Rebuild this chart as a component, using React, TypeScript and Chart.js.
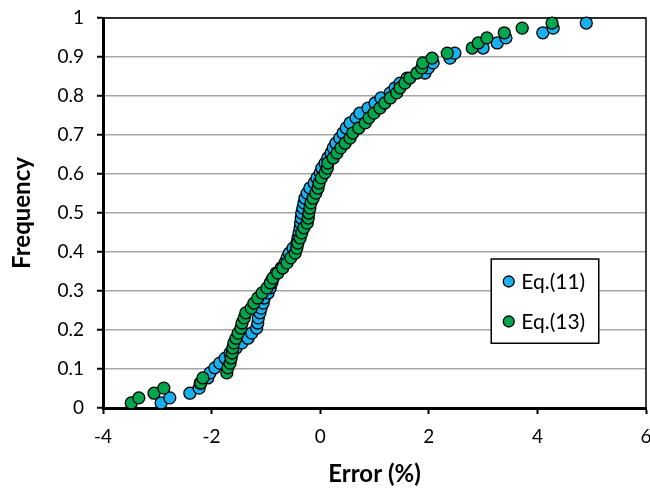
import React, { useEffect, useRef } from 'react';
import { Chart, registerables } from 'chart.js';

Chart.register(...registerables);

// Cumulative frequency levels (shared by both series)
const frequency = [
  0.013, 0.026, 0.038, 0.051, 0.064, 0.077, 0.090, 0.103, 0.115, 0.128,
  0.141, 0.154, 0.167, 0.179, 0.192, 0.205, 0.218, 0.231, 0.244, 0.256,
  0.269, 0.282, 0.295, 0.308, 0.321, 0.333, 0.346, 0.359, 0.372, 0.385,
  0.397, 0.410, 0.423, 0.436, 0.449, 0.462, 0.474, 0.487, 0.500, 0.513,
  0.526, 0.538, 0.551, 0.564, 0.577, 0.590, 0.603, 0.615, 0.628, 0.641,
  0.654, 0.667, 0.679, 0.692, 0.705, 0.718, 0.731, 0.744, 0.756, 0.769,
  0.782, 0.795, 0.808, 0.821, 0.833, 0.846, 0.859, 0.872, 0.885, 0.897,
  0.910, 0.923, 0.936, 0.949, 0.962, 0.974, 0.987,
];

// Eq.(11) errors (%)
const eq11Error = [
  -2.93, -2.77, -2.40, -2.23, -2.21, -2.07, -2.03, -1.94, -1.85, -1.75,
  -1.66, -1.55, -1.44, -1.33, -1.26, -1.17, -1.15, -1.14, -1.11, -1.09,
  -1.05, -1.03, -0.96, -0.92, -0.89, -0.87, -0.81, -0.72, -0.65, -0.61,
  -0.57, -0.50, -0.43, -0.41, -0.39, -0.37, -0.36, -0.35, -0.34, -0.32,
  -0.30, -0.28, -0.24, -0.19, -0.11, -0.06, 0.00, 0.03, 0.09, 0.14,
  0.20, 0.24, 0.29, 0.36, 0.42, 0.48, 0.55, 0.66, 0.73, 0.88,
  1.01, 1.12, 1.29, 1.38, 1.47, 1.60, 1.93, 1.99, 2.08, 2.39,
  2.48, 3.00, 3.26, 3.42, 4.10, 4.29, 4.90,
];

// Eq.(13) errors (%)
const eq13Error = [
  -3.48, -3.34, -3.06, -2.88, -2.20, -2.16, -1.72, -1.70, -1.66, -1.64,
  -1.62, -1.61, -1.59, -1.55, -1.51, -1.46, -1.44, -1.40, -1.37, -1.27,
  -1.22, -1.15, -1.07, -0.98, -0.92, -0.87, -0.78, -0.69, -0.61, -0.54,
  -0.46, -0.43, -0.41, -0.37, -0.34, -0.30, -0.24, -0.22, -0.21, -0.19,
  -0.17, -0.13, -0.08, -0.04, -0.02, 0.02, 0.09, 0.13, 0.14, 0.24,
  0.31, 0.38, 0.46, 0.55, 0.60, 0.71, 0.83, 0.90, 0.99, 1.10,
  1.19, 1.29, 1.41, 1.47, 1.56, 1.65, 1.78, 1.87, 1.89, 2.06,
  2.34, 2.80, 2.91, 3.07, 3.39, 3.72, 4.27,
];

const xTickValues = [-4, -2, 0, 2, 4, 6];
const yTickValues = [0, 0.1, 0.2, 0.3, 0.4, 0.5, 0.6, 0.7, 0.8, 0.9, 1];
const seriesNames = ['Eq.(11)', 'Eq.(13)'];
const xTitle = 'Error (%)';
const yTitle = 'Frequency';

const BLUE = '#1ab0ee';
const GREEN = '#00a550';
const FONT = 'Lato';

export default function App() {
  const ref = useRef<HTMLCanvasElement>(null);

  useEffect(() => {
    document.body.style.margin = '0';
    document.body.style.overflow = 'hidden';
    const canvas = ref.current;
    if (!canvas) return;

    const toPoints = (xs: number[]) => xs.map((x, i) => ({ x, y: frequency[i] }));

    const framePlugin = {
      id: 'frame',
      beforeDatasetsDraw(chart: any) {
        const { ctx, chartArea: a } = chart;
        ctx.save();
        ctx.strokeStyle = '#000';
        ctx.lineWidth = 1.5;
        ctx.beginPath();
        ctx.moveTo(a.left, a.top);
        ctx.lineTo(a.right, a.top);
        ctx.lineTo(a.right, a.bottom);
        ctx.stroke();
        ctx.restore();
      },
    };

    const legendPlugin = {
      id: 'insideLegend',
      afterDatasetsDraw(chart: any) {
        const { ctx } = chart;
        const xs = chart.scales.x;
        const ys = chart.scales.y;
        const L = xs.getPixelForValue(3.15);
        const R = xs.getPixelForValue(5.13);
        const T = ys.getPixelForValue(0.382);
        const B = ys.getPixelForValue(0.166);
        ctx.save();
        ctx.fillStyle = '#fff';
        ctx.fillRect(L, T, R - L, B - T);
        ctx.strokeStyle = '#000';
        ctx.lineWidth = 1.5;
        ctx.strokeRect(L, T, R - L, B - T);
        const colors = [BLUE, GREEN];
        seriesNames.forEach((name, i) => {
          const cy = T + 22.5 + i * 40;
          ctx.beginPath();
          ctx.arc(L + 17.5, cy, 5.5, 0, Math.PI * 2);
          ctx.fillStyle = colors[i];
          ctx.fill();
          ctx.lineWidth = 1.3;
          ctx.strokeStyle = '#000';
          ctx.stroke();
          ctx.fillStyle = '#000';
          ctx.font = `21px ${FONT}`;
          ctx.textBaseline = 'middle';
          ctx.textAlign = 'left';
          ctx.fillText(name, L + 30, cy + 1);
        });
        ctx.restore();
      },
    };

    const chart = new Chart(canvas, {
      type: 'scatter',
      data: {
        datasets: [
          {
            label: seriesNames[0],
            data: toPoints(eq11Error),
            backgroundColor: BLUE,
            borderColor: '#000',
            borderWidth: 1.3,
            pointRadius: 6,
            pointHoverRadius: 6,
            order: 2,
            clip: false,
          } as any,
          {
            label: seriesNames[1],
            data: toPoints(eq13Error),
            backgroundColor: GREEN,
            borderColor: '#000',
            borderWidth: 1.3,
            pointRadius: 6,
            pointHoverRadius: 6,
            order: 1,
            clip: false,
          } as any,
        ],
      },
      options: {
        animation: false,
        responsive: false,
        layout: { autoPadding: false, padding: { top: 18, right: 0, left: 0, bottom: 0 } },
        plugins: {
          legend: { display: false },
          tooltip: { enabled: false },
        },
        scales: {
          x: {
            type: 'linear',
            min: -4,
            max: 6,
            afterBuildTicks: (s: any) => {
              s.ticks = xTickValues.map((v) => ({ value: v }));
            },
            afterFit: (s: any) => {
              s.height = 84;
              s.paddingRight = 4;
            },
            ticks: {
              color: '#000',
              font: { family: FONT, size: 19 },
              padding: 11,
              callback: (v: any) => String(v),
            },
            grid: {
              drawOnChartArea: false,
              tickLength: 6,
              tickColor: '#000',
              tickWidth: 2,
            },
            border: { color: '#000', width: 3 },
            title: {
              display: true,
              text: xTitle,
              color: '#000',
              font: { family: FONT, size: 24, weight: 'bold' },
              padding: { top: 0, bottom: 3 },
            },
          },
          y: {
            type: 'linear',
            min: 0,
            max: 1,
            afterBuildTicks: (s: any) => {
              s.ticks = yTickValues.map((v) => ({ value: v }));
            },
            afterFit: (s: any) => {
              s.width = 103;
              s.paddingTop = 0;
              s.paddingBottom = 0;
            },
            ticks: {
              color: '#000',
              font: { family: FONT, size: 19 },
              padding: 13,
              callback: (v: any) => String(v),
            },
            grid: {
              color: '#a6a6a6',
              lineWidth: 1.5,
              tickLength: 6,
              tickColor: '#000',
              tickWidth: 2,
            },
            border: { color: '#000', width: 3 },
            title: {
              display: true,
              text: yTitle,
              color: '#000',
              font: { family: FONT, size: 24, weight: 'bold' },
              padding: { top: 8, bottom: 0 },
            },
          },
        },
      } as any,
      plugins: [framePlugin, legendPlugin],
    });

    return () => chart.destroy();
  }, []);

  return (
    <div style={{ position: 'fixed', left: 0, top: 0, width: 650, height: 492, background: '#fff' }}>
      <canvas ref={ref} width={650} height={492} style={{ display: 'block', width: 650, height: 492 }} />
    </div>
  );
}
